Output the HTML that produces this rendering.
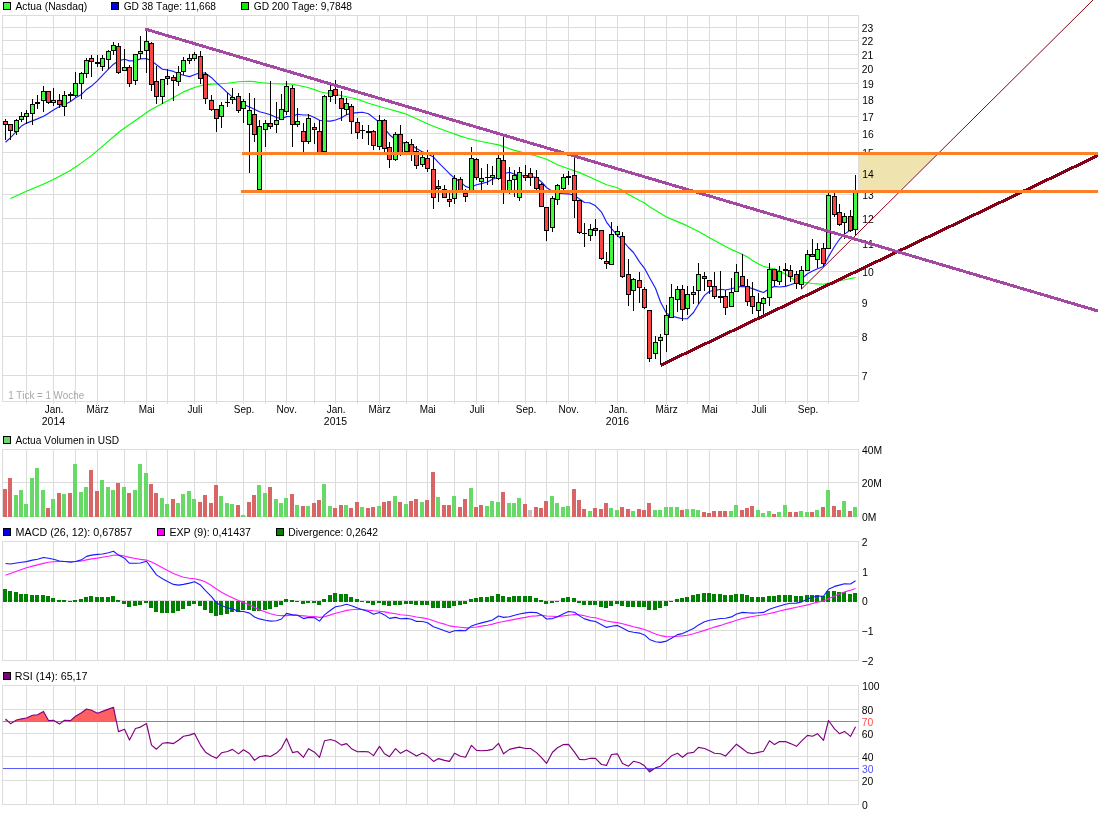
<!DOCTYPE html>
<html lang="de"><head><meta charset="utf-8"><title>Actua (Nasdaq) Chart</title>
<style>html,body{margin:0;padding:0;background:#fff}body{width:1098px;height:814px;overflow:hidden}svg{display:block}text{font-family:'Liberation Sans', sans-serif;font-size:11px;font-kerning:none}</style>
</head><body><svg width="1098" height="814" viewBox="0 0 1098 814" font-family="'Liberation Sans', sans-serif" font-size="11" fill="#000"><rect width="1098" height="814" fill="#fff"/><g id="main"><path d="M26.5 15.5V403.5M53.5 15.5V403.5M75.5 15.5V403.5M97.5 15.5V403.5M124.5 15.5V403.5M146.5 15.5V403.5M167.5 15.5V403.5M194.5 15.5V403.5M216.5 15.5V403.5M243.5 15.5V403.5M265.5 15.5V403.5M286.5 15.5V403.5M314.5 15.5V403.5M335.5 15.5V403.5M357.5 15.5V403.5M379.5 15.5V403.5M406.5 15.5V403.5M427.5 15.5V403.5M454.5 15.5V403.5M476.5 15.5V403.5M498.5 15.5V403.5M525.5 15.5V403.5M546.5 15.5V403.5M568.5 15.5V403.5M595.5 15.5V403.5M617.5 15.5V403.5M644.5 15.5V403.5M666.5 15.5V403.5M687.5 15.5V403.5M709.5 15.5V403.5M736.5 15.5V403.5M758.5 15.5V403.5M785.5 15.5V403.5M807.5 15.5V403.5M828.5 15.5V403.5M2.5 375.5H858.5M2.5 336.5H858.5M2.5 302.5H858.5M2.5 271.5H858.5M2.5 243.5H858.5M2.5 218.5H858.5M2.5 194.5H858.5M2.5 173.5H858.5M2.5 152.5H858.5M2.5 133.5H858.5M2.5 116.5H858.5M2.5 99.5H858.5M2.5 83.5H858.5M2.5 68.5H858.5M2.5 54.5H858.5M2.5 40.5H858.5M2.5 27.5H858.5" stroke="#dcdcdc" stroke-width="1" fill="none" shape-rendering="crispEdges"/><rect x="2.5" y="15.5" width="856.0" height="386.0" fill="none" stroke="#dcdcdc" stroke-width="1" shape-rendering="crispEdges"/><text transform="translate(8.15 399) scale(0.8921 1)" fill="#a8a8a8">1 Tick = 1 Woche</text><path d="M10.5 198.5 L26.5 191.3 L43.1 184.2 L53.5 179.4 L70.8 170.3 L81.9 162.6 L91.8 155.4 L97.6 150.4 L120.0 131.2 L150.3 110.0 L162.5 103.5 L173.5 97.4 L183.5 91.9 L194.5 87.5 L200.5 85.8 L205.5 84.6 L211.5 84.1 L216.5 84.0 L227.4 83.2 L238.5 81.8 L249.4 81.3 L254.4 81.6 L259.5 82.5 L270.5 83.5 L281.5 84.0 L286.5 83.8 L292.5 84.3 L297.5 85.2 L303.5 86.5 L308.5 87.7 L314.5 89.6 L320.0 91.7 L324.5 92.7 L335.5 94.3 L341.5 95.7 L351.5 97.7 L357.5 99.3 L368.5 103.2 L379.5 106.5 L389.5 109.3 L400.5 112.4 L406.5 114.2 L416.5 118.7 L427.5 123.7 L430.4 125.0 L438.5 128.3 L449.5 132.2 L460.5 136.1 L465.5 137.7 L476.5 140.5 L487.5 142.7 L498.5 144.9 L503.5 146.6 L509.5 148.8 L514.5 150.4 L519.5 151.6 L525.5 153.2 L536.5 156.0 L546.5 159.3 L557.5 164.8 L568.5 168.7 L579.5 172.6 L589.5 177.0 L595.5 179.8 L606.5 184.8 L616.5 187.5 L622.5 190.3 L626.2 193.3 L630.0 195.3 L639.5 200.5 L644.4 202.7 L650.0 207.1 L666.5 217.0 L677.5 221.6 L687.5 225.9 L698.6 231.4 L709.5 237.7 L720.5 243.8 L725.5 246.6 L731.5 249.6 L736.5 251.8 L742.5 254.4 L747.5 257.1 L752.5 260.4 L758.5 264.0 L763.5 266.2 L769.5 268.0 L774.5 268.7 L779.5 271.0 L785.5 274.3 L790.5 277.6 L796.5 280.9 L801.5 282.0 L807.5 282.8 L812.5 283.5 L817.5 283.9 L823.5 284.2 L828.5 283.1 L834.5 281.5 L839.5 280.6 L845.0 279.8 L855.5 277.5" fill="none" stroke="#00ff00" stroke-width="1.15" stroke-linejoin="round" /><path d="M5.5 142.2 L10.5 137.7 L16.5 131.4 L21.5 125.9 L26.5 123.1 L32.4 120.9 L37.4 118.9 L43.5 116.3 L48.5 113.2 L53.5 109.9 L59.5 106.5 L64.5 104.6 L70.6 101.6 L75.5 97.7 L81.5 94.4 L86.5 89.4 L91.5 86.1 L97.5 80.6 L102.4 75.3 L108.5 69.2 L113.5 64.2 L118.5 60.9 L124.5 59.3 L129.5 60.9 L135.5 60.7 L140.5 58.9 L146.5 58.5 L151.5 60.9 L156.5 64.8 L162.5 69.2 L167.5 70.0 L173.5 71.4 L178.5 73.7 L183.5 75.3 L189.5 76.6 L194.5 74.8 L200.5 72.5 L205.5 73.3 L211.5 77.7 L216.5 82.7 L221.5 87.1 L227.4 92.6 L232.4 97.1 L238.5 101.5 L243.5 104.2 L249.4 107.0 L254.4 109.2 L259.5 111.8 L265.5 113.3 L270.5 114.8 L276.4 117.5 L281.5 118.6 L286.5 116.6 L292.5 116.2 L297.5 114.2 L303.5 115.0 L308.5 115.0 L314.5 117.5 L319.5 120.3 L324.5 120.9 L330.5 121.1 L335.5 120.0 L341.5 117.8 L346.5 114.8 L351.5 113.1 L357.5 112.6 L362.5 112.3 L368.5 113.7 L373.5 117.6 L379.5 122.5 L384.5 128.6 L389.5 134.7 L395.5 139.7 L400.5 141.9 L406.5 143.6 L411.5 145.2 L416.5 148.5 L422.5 151.9 L427.5 154.0 L433.5 157.1 L438.5 162.6 L444.5 168.7 L449.5 173.7 L454.5 178.1 L460.5 182.0 L465.5 186.4 L468.6 187.5 L471.5 187.0 L476.5 184.7 L481.5 183.6 L487.5 182.0 L492.5 179.2 L498.5 177.0 L503.5 173.7 L509.5 172.3 L514.5 174.2 L519.5 175.5 L525.5 175.9 L530.5 176.5 L536.5 177.6 L541.5 182.0 L546.5 187.5 L552.5 191.4 L557.5 193.3 L563.5 193.8 L568.5 193.9 L574.5 195.3 L579.5 199.1 L584.5 202.5 L589.5 202.8 L595.5 205.8 L601.5 212.1 L606.5 222.1 L611.5 228.7 L617.5 235.4 L622.5 240.4 L628.5 247.5 L633.5 252.5 L639.5 261.9 L644.5 268.3 L650.0 278.5 L655.5 288.2 L660.5 302.0 L666.5 313.3 L671.5 316.0 L677.5 317.6 L682.5 318.7 L687.5 318.7 L693.5 312.5 L698.5 304.2 L704.5 295.4 L709.5 291.2 L714.5 290.6 L720.5 289.3 L725.5 290.0 L731.5 288.8 L736.5 287.3 L742.5 286.4 L747.5 287.2 L752.5 288.6 L758.5 290.9 L763.5 292.5 L769.5 288.5 L774.5 286.4 L779.5 287.0 L785.5 286.4 L790.5 284.8 L796.5 282.6 L801.5 279.0 L807.5 273.7 L812.5 271.0 L817.5 268.7 L823.5 266.5 L828.5 256.6 L834.5 246.5 L839.5 239.2 L844.5 234.1 L850.5 230.0 L855.5 226.5" fill="none" stroke="#1a1aff" stroke-width="1.15" stroke-linejoin="round" /><g shape-rendering="crispEdges"><rect x="5" y="119" width="1" height="21" fill="#000"/><rect x="3" y="121" width="5" height="4" fill="#000"/><rect x="4" y="122" width="3" height="2" fill="#fb4545"/><rect x="10" y="124" width="1" height="16" fill="#000"/><rect x="8" y="124" width="5" height="7" fill="#000"/><rect x="9" y="125" width="3" height="5" fill="#fb4545"/><rect x="16" y="119" width="1" height="16" fill="#000"/><rect x="14" y="120" width="5" height="12" fill="#000"/><rect x="15" y="121" width="3" height="10" fill="#3ffb3f"/><rect x="21" y="112" width="1" height="10" fill="#000"/><rect x="19" y="116" width="5" height="4" fill="#000"/><rect x="20" y="117" width="3" height="2" fill="#3ffb3f"/><rect x="26" y="110" width="1" height="14" fill="#000"/><rect x="24" y="113" width="5" height="4" fill="#000"/><rect x="25" y="114" width="3" height="2" fill="#3ffb3f"/><rect x="32" y="99" width="1" height="26" fill="#000"/><rect x="30" y="104" width="5" height="10" fill="#000"/><rect x="31" y="105" width="3" height="8" fill="#3ffb3f"/><rect x="37" y="95" width="1" height="14" fill="#000"/><rect x="35" y="102" width="5" height="2" fill="#000"/><rect x="43" y="86" width="1" height="26" fill="#000"/><rect x="41" y="91" width="5" height="10" fill="#000"/><rect x="42" y="92" width="3" height="8" fill="#3ffb3f"/><rect x="48" y="91" width="1" height="13" fill="#000"/><rect x="46" y="91" width="5" height="12" fill="#000"/><rect x="47" y="92" width="3" height="10" fill="#fb4545"/><rect x="53" y="88" width="1" height="18" fill="#000"/><rect x="51" y="100" width="5" height="3" fill="#000"/><rect x="52" y="101" width="3" height="1" fill="#3ffb3f"/><rect x="59" y="94" width="1" height="14" fill="#000"/><rect x="57" y="100" width="5" height="5" fill="#000"/><rect x="58" y="101" width="3" height="3" fill="#fb4545"/><rect x="64" y="91" width="1" height="25" fill="#000"/><rect x="62" y="95" width="5" height="12" fill="#000"/><rect x="63" y="96" width="3" height="10" fill="#3ffb3f"/><rect x="70" y="92" width="1" height="9" fill="#000"/><rect x="68" y="94" width="5" height="2" fill="#000"/><rect x="75" y="72" width="1" height="25" fill="#000"/><rect x="73" y="83" width="5" height="13" fill="#000"/><rect x="74" y="84" width="3" height="11" fill="#3ffb3f"/><rect x="81" y="72" width="1" height="27" fill="#000"/><rect x="79" y="73" width="5" height="11" fill="#000"/><rect x="80" y="74" width="3" height="9" fill="#3ffb3f"/><rect x="86" y="58" width="1" height="20" fill="#000"/><rect x="84" y="60" width="5" height="14" fill="#000"/><rect x="85" y="61" width="3" height="12" fill="#3ffb3f"/><rect x="91" y="55" width="1" height="22" fill="#000"/><rect x="89" y="58" width="5" height="4" fill="#000"/><rect x="90" y="59" width="3" height="2" fill="#fb4545"/><rect x="97" y="55" width="1" height="12" fill="#000"/><rect x="95" y="62" width="5" height="2" fill="#000"/><rect x="102" y="55" width="1" height="16" fill="#000"/><rect x="100" y="58" width="5" height="9" fill="#000"/><rect x="101" y="59" width="3" height="7" fill="#3ffb3f"/><rect x="108" y="50" width="1" height="19" fill="#000"/><rect x="106" y="51" width="5" height="9" fill="#000"/><rect x="107" y="52" width="3" height="7" fill="#3ffb3f"/><rect x="113" y="42" width="1" height="13" fill="#000"/><rect x="111" y="45" width="5" height="6" fill="#000"/><rect x="112" y="46" width="3" height="4" fill="#3ffb3f"/><rect x="118" y="43" width="1" height="31" fill="#000"/><rect x="116" y="46" width="5" height="27" fill="#000"/><rect x="117" y="47" width="3" height="25" fill="#fb4545"/><rect x="124" y="49" width="1" height="22" fill="#000"/><rect x="122" y="67" width="5" height="4" fill="#000"/><rect x="123" y="68" width="3" height="2" fill="#3ffb3f"/><rect x="129" y="65" width="1" height="22" fill="#000"/><rect x="127" y="67" width="5" height="17" fill="#000"/><rect x="128" y="68" width="3" height="15" fill="#fb4545"/><rect x="135" y="54" width="1" height="31" fill="#000"/><rect x="133" y="54" width="5" height="27" fill="#000"/><rect x="134" y="55" width="3" height="25" fill="#3ffb3f"/><rect x="140" y="36" width="1" height="23" fill="#000"/><rect x="138" y="51" width="5" height="3" fill="#000"/><rect x="139" y="52" width="3" height="1" fill="#3ffb3f"/><rect x="146" y="31" width="1" height="42" fill="#000"/><rect x="144" y="41" width="5" height="10" fill="#000"/><rect x="145" y="42" width="3" height="8" fill="#3ffb3f"/><rect x="151" y="42" width="1" height="49" fill="#000"/><rect x="149" y="43" width="5" height="42" fill="#000"/><rect x="150" y="44" width="3" height="40" fill="#fb4545"/><rect x="156" y="66" width="1" height="38" fill="#000"/><rect x="154" y="81" width="5" height="16" fill="#000"/><rect x="155" y="82" width="3" height="14" fill="#fb4545"/><rect x="162" y="79" width="1" height="25" fill="#000"/><rect x="160" y="79" width="5" height="18" fill="#000"/><rect x="161" y="80" width="3" height="16" fill="#3ffb3f"/><rect x="167" y="69" width="1" height="16" fill="#000"/><rect x="165" y="76" width="5" height="3" fill="#000"/><rect x="166" y="77" width="3" height="1" fill="#fb4545"/><rect x="173" y="75" width="1" height="26" fill="#000"/><rect x="171" y="77" width="5" height="4" fill="#000"/><rect x="172" y="78" width="3" height="2" fill="#fb4545"/><rect x="178" y="66" width="1" height="20" fill="#000"/><rect x="176" y="72" width="5" height="10" fill="#000"/><rect x="177" y="73" width="3" height="8" fill="#3ffb3f"/><rect x="183" y="57" width="1" height="18" fill="#000"/><rect x="181" y="60" width="5" height="12" fill="#000"/><rect x="182" y="61" width="3" height="10" fill="#3ffb3f"/><rect x="189" y="54" width="1" height="10" fill="#000"/><rect x="187" y="58" width="5" height="3" fill="#000"/><rect x="188" y="59" width="3" height="1" fill="#3ffb3f"/><rect x="194" y="52" width="1" height="9" fill="#000"/><rect x="192" y="54" width="5" height="5" fill="#000"/><rect x="193" y="55" width="3" height="3" fill="#3ffb3f"/><rect x="200" y="51" width="1" height="33" fill="#000"/><rect x="198" y="56" width="5" height="23" fill="#000"/><rect x="199" y="57" width="3" height="21" fill="#fb4545"/><rect x="205" y="72" width="1" height="32" fill="#000"/><rect x="203" y="74" width="5" height="25" fill="#000"/><rect x="204" y="75" width="3" height="23" fill="#fb4545"/><rect x="211" y="95" width="1" height="16" fill="#000"/><rect x="209" y="100" width="5" height="10" fill="#000"/><rect x="210" y="101" width="3" height="8" fill="#fb4545"/><rect x="216" y="109" width="1" height="23" fill="#000"/><rect x="214" y="109" width="5" height="10" fill="#000"/><rect x="215" y="110" width="3" height="8" fill="#fb4545"/><rect x="221" y="102" width="1" height="26" fill="#000"/><rect x="219" y="105" width="5" height="12" fill="#000"/><rect x="220" y="106" width="3" height="10" fill="#3ffb3f"/><rect x="227" y="93" width="1" height="14" fill="#000"/><rect x="225" y="102" width="5" height="1" fill="#000"/><rect x="232" y="88" width="1" height="16" fill="#000"/><rect x="230" y="97" width="5" height="3" fill="#000"/><rect x="231" y="98" width="3" height="1" fill="#3ffb3f"/><rect x="238" y="93" width="1" height="20" fill="#000"/><rect x="236" y="96" width="5" height="15" fill="#000"/><rect x="237" y="97" width="3" height="13" fill="#fb4545"/><rect x="243" y="99" width="1" height="24" fill="#000"/><rect x="241" y="101" width="5" height="8" fill="#000"/><rect x="242" y="102" width="3" height="6" fill="#3ffb3f"/><rect x="249" y="93" width="1" height="80" fill="#000"/><rect x="247" y="110" width="5" height="15" fill="#000"/><rect x="248" y="111" width="3" height="13" fill="#3ffb3f"/><rect x="254" y="98" width="1" height="44" fill="#000"/><rect x="252" y="114" width="5" height="21" fill="#000"/><rect x="253" y="115" width="3" height="19" fill="#fb4545"/><rect x="259" y="120" width="1" height="70" fill="#000"/><rect x="257" y="126" width="5" height="64" fill="#000"/><rect x="258" y="127" width="3" height="62" fill="#3ffb3f"/><rect x="265" y="120" width="1" height="27" fill="#000"/><rect x="263" y="123" width="5" height="7" fill="#000"/><rect x="264" y="124" width="3" height="5" fill="#3ffb3f"/><rect x="270" y="81" width="1" height="48" fill="#000"/><rect x="268" y="123" width="5" height="4" fill="#000"/><rect x="269" y="124" width="3" height="2" fill="#fb4545"/><rect x="276" y="102" width="1" height="31" fill="#000"/><rect x="274" y="120" width="5" height="5" fill="#000"/><rect x="275" y="121" width="3" height="3" fill="#3ffb3f"/><rect x="281" y="94" width="1" height="26" fill="#000"/><rect x="279" y="109" width="5" height="11" fill="#000"/><rect x="280" y="110" width="3" height="9" fill="#3ffb3f"/><rect x="286" y="81" width="1" height="34" fill="#000"/><rect x="284" y="86" width="5" height="26" fill="#000"/><rect x="285" y="87" width="3" height="24" fill="#3ffb3f"/><rect x="292" y="85" width="1" height="62" fill="#000"/><rect x="290" y="88" width="5" height="37" fill="#000"/><rect x="291" y="89" width="3" height="35" fill="#fb4545"/><rect x="297" y="108" width="1" height="19" fill="#000"/><rect x="295" y="121" width="5" height="4" fill="#000"/><rect x="296" y="122" width="3" height="2" fill="#3ffb3f"/><rect x="303" y="123" width="1" height="29" fill="#000"/><rect x="301" y="131" width="5" height="11" fill="#000"/><rect x="302" y="132" width="3" height="9" fill="#fb4545"/><rect x="308" y="114" width="1" height="30" fill="#000"/><rect x="306" y="118" width="5" height="24" fill="#000"/><rect x="307" y="119" width="3" height="22" fill="#3ffb3f"/><rect x="314" y="123" width="1" height="21" fill="#000"/><rect x="312" y="127" width="5" height="3" fill="#000"/><rect x="313" y="128" width="3" height="1" fill="#fb4545"/><rect x="319" y="120" width="1" height="33" fill="#000"/><rect x="317" y="131" width="5" height="22" fill="#000"/><rect x="318" y="132" width="3" height="20" fill="#fb4545"/><rect x="324" y="95" width="1" height="57" fill="#000"/><rect x="322" y="96" width="5" height="56" fill="#000"/><rect x="323" y="97" width="3" height="54" fill="#3ffb3f"/><rect x="330" y="85" width="1" height="17" fill="#000"/><rect x="328" y="90" width="5" height="7" fill="#000"/><rect x="329" y="91" width="3" height="5" fill="#3ffb3f"/><rect x="335" y="80" width="1" height="24" fill="#000"/><rect x="333" y="89" width="5" height="7" fill="#000"/><rect x="334" y="90" width="3" height="5" fill="#fb4545"/><rect x="341" y="91" width="1" height="30" fill="#000"/><rect x="339" y="98" width="5" height="11" fill="#000"/><rect x="340" y="99" width="3" height="9" fill="#fb4545"/><rect x="346" y="98" width="1" height="17" fill="#000"/><rect x="344" y="103" width="5" height="7" fill="#000"/><rect x="345" y="104" width="3" height="5" fill="#3ffb3f"/><rect x="351" y="104" width="1" height="30" fill="#000"/><rect x="349" y="106" width="5" height="16" fill="#000"/><rect x="350" y="107" width="3" height="14" fill="#fb4545"/><rect x="357" y="118" width="1" height="21" fill="#000"/><rect x="355" y="122" width="5" height="11" fill="#000"/><rect x="356" y="123" width="3" height="9" fill="#fb4545"/><rect x="362" y="125" width="1" height="14" fill="#000"/><rect x="360" y="130" width="5" height="1" fill="#000"/><rect x="368" y="125" width="1" height="20" fill="#000"/><rect x="366" y="131" width="5" height="2" fill="#000"/><rect x="373" y="130" width="1" height="20" fill="#000"/><rect x="371" y="131" width="5" height="15" fill="#000"/><rect x="372" y="132" width="3" height="13" fill="#fb4545"/><rect x="379" y="115" width="1" height="35" fill="#000"/><rect x="377" y="120" width="5" height="27" fill="#000"/><rect x="378" y="121" width="3" height="25" fill="#3ffb3f"/><rect x="384" y="119" width="1" height="33" fill="#000"/><rect x="382" y="120" width="5" height="29" fill="#000"/><rect x="383" y="121" width="3" height="27" fill="#fb4545"/><rect x="389" y="142" width="1" height="26" fill="#000"/><rect x="387" y="147" width="5" height="13" fill="#000"/><rect x="388" y="148" width="3" height="11" fill="#fb4545"/><rect x="395" y="132" width="1" height="29" fill="#000"/><rect x="393" y="134" width="5" height="26" fill="#000"/><rect x="394" y="135" width="3" height="24" fill="#3ffb3f"/><rect x="400" y="125" width="1" height="31" fill="#000"/><rect x="398" y="134" width="5" height="20" fill="#000"/><rect x="399" y="135" width="3" height="18" fill="#fb4545"/><rect x="406" y="141" width="1" height="11" fill="#000"/><rect x="404" y="142" width="5" height="10" fill="#000"/><rect x="405" y="143" width="3" height="8" fill="#3ffb3f"/><rect x="411" y="139" width="1" height="22" fill="#000"/><rect x="409" y="144" width="5" height="9" fill="#000"/><rect x="410" y="145" width="3" height="7" fill="#fb4545"/><rect x="416" y="146" width="1" height="23" fill="#000"/><rect x="414" y="151" width="5" height="15" fill="#000"/><rect x="415" y="152" width="3" height="13" fill="#fb4545"/><rect x="422" y="155" width="1" height="12" fill="#000"/><rect x="420" y="157" width="5" height="8" fill="#000"/><rect x="421" y="158" width="3" height="6" fill="#3ffb3f"/><rect x="427" y="150" width="1" height="22" fill="#000"/><rect x="425" y="158" width="5" height="11" fill="#000"/><rect x="426" y="159" width="3" height="9" fill="#fb4545"/><rect x="433" y="155" width="1" height="54" fill="#000"/><rect x="431" y="169" width="5" height="29" fill="#000"/><rect x="432" y="170" width="3" height="27" fill="#fb4545"/><rect x="438" y="180" width="1" height="22" fill="#000"/><rect x="436" y="186" width="5" height="3" fill="#000"/><rect x="437" y="187" width="3" height="1" fill="#fb4545"/><rect x="444" y="185" width="1" height="13" fill="#000"/><rect x="442" y="189" width="5" height="9" fill="#000"/><rect x="443" y="190" width="3" height="7" fill="#fb4545"/><rect x="449" y="193" width="1" height="14" fill="#000"/><rect x="447" y="199" width="5" height="3" fill="#000"/><rect x="448" y="200" width="3" height="1" fill="#fb4545"/><rect x="454" y="175" width="1" height="29" fill="#000"/><rect x="452" y="178" width="5" height="21" fill="#000"/><rect x="453" y="179" width="3" height="19" fill="#3ffb3f"/><rect x="460" y="177" width="1" height="16" fill="#000"/><rect x="458" y="179" width="5" height="13" fill="#000"/><rect x="459" y="180" width="3" height="11" fill="#fb4545"/><rect x="465" y="189" width="1" height="13" fill="#000"/><rect x="463" y="193" width="5" height="4" fill="#000"/><rect x="464" y="194" width="3" height="2" fill="#fb4545"/><rect x="471" y="147" width="1" height="45" fill="#000"/><rect x="469" y="158" width="5" height="34" fill="#000"/><rect x="470" y="159" width="3" height="32" fill="#3ffb3f"/><rect x="476" y="158" width="1" height="22" fill="#000"/><rect x="474" y="159" width="5" height="19" fill="#000"/><rect x="475" y="160" width="3" height="17" fill="#fb4545"/><rect x="481" y="168" width="1" height="22" fill="#000"/><rect x="479" y="178" width="5" height="4" fill="#000"/><rect x="480" y="179" width="3" height="2" fill="#3ffb3f"/><rect x="487" y="164" width="1" height="21" fill="#000"/><rect x="485" y="177" width="5" height="1" fill="#000"/><rect x="492" y="166" width="1" height="19" fill="#000"/><rect x="490" y="175" width="5" height="3" fill="#000"/><rect x="491" y="176" width="3" height="1" fill="#3ffb3f"/><rect x="498" y="155" width="1" height="25" fill="#000"/><rect x="496" y="158" width="5" height="21" fill="#000"/><rect x="497" y="159" width="3" height="19" fill="#3ffb3f"/><rect x="503" y="136" width="1" height="68" fill="#000"/><rect x="501" y="160" width="5" height="32" fill="#000"/><rect x="502" y="161" width="3" height="30" fill="#fb4545"/><rect x="509" y="167" width="1" height="27" fill="#000"/><rect x="507" y="180" width="5" height="12" fill="#000"/><rect x="508" y="181" width="3" height="10" fill="#3ffb3f"/><rect x="514" y="170" width="1" height="27" fill="#000"/><rect x="512" y="175" width="5" height="5" fill="#000"/><rect x="513" y="176" width="3" height="3" fill="#3ffb3f"/><rect x="519" y="167" width="1" height="34" fill="#000"/><rect x="517" y="172" width="5" height="26" fill="#000"/><rect x="518" y="173" width="3" height="24" fill="#3ffb3f"/><rect x="525" y="165" width="1" height="16" fill="#000"/><rect x="523" y="175" width="5" height="3" fill="#000"/><rect x="524" y="176" width="3" height="1" fill="#fb4545"/><rect x="530" y="168" width="1" height="18" fill="#000"/><rect x="528" y="173" width="5" height="5" fill="#000"/><rect x="529" y="174" width="3" height="3" fill="#fb4545"/><rect x="536" y="170" width="1" height="20" fill="#000"/><rect x="534" y="177" width="5" height="12" fill="#000"/><rect x="535" y="178" width="3" height="10" fill="#fb4545"/><rect x="541" y="183" width="1" height="24" fill="#000"/><rect x="539" y="184" width="5" height="23" fill="#000"/><rect x="540" y="185" width="3" height="21" fill="#fb4545"/><rect x="546" y="207" width="1" height="34" fill="#000"/><rect x="544" y="207" width="5" height="24" fill="#000"/><rect x="545" y="208" width="3" height="22" fill="#fb4545"/><rect x="552" y="196" width="1" height="36" fill="#000"/><rect x="550" y="198" width="5" height="30" fill="#000"/><rect x="551" y="199" width="3" height="28" fill="#3ffb3f"/><rect x="557" y="184" width="1" height="21" fill="#000"/><rect x="555" y="185" width="5" height="15" fill="#000"/><rect x="556" y="186" width="3" height="13" fill="#3ffb3f"/><rect x="563" y="174" width="1" height="16" fill="#000"/><rect x="561" y="177" width="5" height="12" fill="#000"/><rect x="562" y="178" width="3" height="10" fill="#3ffb3f"/><rect x="568" y="171" width="1" height="14" fill="#000"/><rect x="566" y="176" width="5" height="2" fill="#000"/><rect x="574" y="157" width="1" height="61" fill="#000"/><rect x="572" y="175" width="5" height="26" fill="#000"/><rect x="573" y="176" width="3" height="24" fill="#fb4545"/><rect x="579" y="200" width="1" height="34" fill="#000"/><rect x="577" y="200" width="5" height="33" fill="#000"/><rect x="578" y="201" width="3" height="31" fill="#fb4545"/><rect x="584" y="223" width="1" height="24" fill="#000"/><rect x="582" y="233" width="5" height="1" fill="#000"/><rect x="590" y="224" width="1" height="17" fill="#000"/><rect x="588" y="229" width="5" height="7" fill="#000"/><rect x="589" y="230" width="3" height="5" fill="#3ffb3f"/><rect x="595" y="219" width="1" height="17" fill="#000"/><rect x="593" y="228" width="5" height="3" fill="#000"/><rect x="594" y="229" width="3" height="1" fill="#fb4545"/><rect x="601" y="230" width="1" height="30" fill="#000"/><rect x="599" y="230" width="5" height="29" fill="#000"/><rect x="600" y="231" width="3" height="27" fill="#fb4545"/><rect x="606" y="252" width="1" height="17" fill="#000"/><rect x="604" y="261" width="5" height="3" fill="#000"/><rect x="605" y="262" width="3" height="1" fill="#fb4545"/><rect x="611" y="222" width="1" height="43" fill="#000"/><rect x="609" y="234" width="5" height="31" fill="#000"/><rect x="610" y="235" width="3" height="29" fill="#3ffb3f"/><rect x="617" y="226" width="1" height="11" fill="#000"/><rect x="615" y="231" width="5" height="4" fill="#000"/><rect x="616" y="232" width="3" height="2" fill="#3ffb3f"/><rect x="622" y="232" width="1" height="46" fill="#000"/><rect x="620" y="236" width="5" height="41" fill="#000"/><rect x="621" y="237" width="3" height="39" fill="#fb4545"/><rect x="628" y="259" width="1" height="47" fill="#000"/><rect x="626" y="274" width="5" height="21" fill="#000"/><rect x="627" y="275" width="3" height="19" fill="#fb4545"/><rect x="633" y="278" width="1" height="33" fill="#000"/><rect x="631" y="279" width="5" height="12" fill="#000"/><rect x="632" y="280" width="3" height="10" fill="#3ffb3f"/><rect x="639" y="272" width="1" height="31" fill="#000"/><rect x="637" y="280" width="5" height="8" fill="#000"/><rect x="638" y="281" width="3" height="6" fill="#fb4545"/><rect x="644" y="287" width="1" height="22" fill="#000"/><rect x="642" y="289" width="5" height="19" fill="#000"/><rect x="643" y="290" width="3" height="17" fill="#fb4545"/><rect x="649" y="310" width="1" height="52" fill="#000"/><rect x="647" y="310" width="5" height="49" fill="#000"/><rect x="648" y="311" width="3" height="47" fill="#fb4545"/><rect x="655" y="336" width="1" height="23" fill="#000"/><rect x="653" y="342" width="5" height="12" fill="#000"/><rect x="654" y="343" width="3" height="10" fill="#3ffb3f"/><rect x="660" y="334" width="1" height="31" fill="#000"/><rect x="658" y="337" width="5" height="4" fill="#000"/><rect x="659" y="338" width="3" height="2" fill="#3ffb3f"/><rect x="666" y="305" width="1" height="47" fill="#000"/><rect x="664" y="315" width="5" height="20" fill="#000"/><rect x="665" y="316" width="3" height="18" fill="#3ffb3f"/><rect x="671" y="284" width="1" height="34" fill="#000"/><rect x="669" y="297" width="5" height="21" fill="#000"/><rect x="670" y="298" width="3" height="19" fill="#3ffb3f"/><rect x="677" y="286" width="1" height="26" fill="#000"/><rect x="675" y="289" width="5" height="11" fill="#000"/><rect x="676" y="290" width="3" height="9" fill="#3ffb3f"/><rect x="682" y="285" width="1" height="36" fill="#000"/><rect x="680" y="289" width="5" height="21" fill="#000"/><rect x="681" y="290" width="3" height="19" fill="#fb4545"/><rect x="687" y="286" width="1" height="29" fill="#000"/><rect x="685" y="294" width="5" height="15" fill="#000"/><rect x="686" y="295" width="3" height="13" fill="#3ffb3f"/><rect x="693" y="286" width="1" height="18" fill="#000"/><rect x="691" y="292" width="5" height="3" fill="#000"/><rect x="692" y="293" width="3" height="1" fill="#3ffb3f"/><rect x="698" y="263" width="1" height="41" fill="#000"/><rect x="696" y="274" width="5" height="17" fill="#000"/><rect x="697" y="275" width="3" height="15" fill="#3ffb3f"/><rect x="704" y="272" width="1" height="19" fill="#000"/><rect x="702" y="276" width="5" height="3" fill="#000"/><rect x="703" y="277" width="3" height="1" fill="#fb4545"/><rect x="709" y="280" width="1" height="14" fill="#000"/><rect x="707" y="280" width="5" height="7" fill="#000"/><rect x="708" y="281" width="3" height="5" fill="#fb4545"/><rect x="714" y="272" width="1" height="27" fill="#000"/><rect x="712" y="286" width="5" height="11" fill="#000"/><rect x="713" y="287" width="3" height="9" fill="#fb4545"/><rect x="720" y="271" width="1" height="32" fill="#000"/><rect x="718" y="296" width="5" height="2" fill="#000"/><rect x="725" y="290" width="1" height="25" fill="#000"/><rect x="723" y="296" width="5" height="12" fill="#000"/><rect x="724" y="297" width="3" height="10" fill="#fb4545"/><rect x="731" y="278" width="1" height="29" fill="#000"/><rect x="729" y="292" width="5" height="15" fill="#000"/><rect x="730" y="293" width="3" height="13" fill="#3ffb3f"/><rect x="736" y="264" width="1" height="28" fill="#000"/><rect x="734" y="272" width="5" height="20" fill="#000"/><rect x="735" y="273" width="3" height="18" fill="#3ffb3f"/><rect x="742" y="254" width="1" height="32" fill="#000"/><rect x="740" y="276" width="5" height="10" fill="#000"/><rect x="741" y="277" width="3" height="8" fill="#fb4545"/><rect x="747" y="279" width="1" height="27" fill="#000"/><rect x="745" y="286" width="5" height="16" fill="#000"/><rect x="746" y="287" width="3" height="14" fill="#fb4545"/><rect x="752" y="282" width="1" height="32" fill="#000"/><rect x="750" y="296" width="5" height="11" fill="#000"/><rect x="751" y="297" width="3" height="9" fill="#fb4545"/><rect x="758" y="293" width="1" height="24" fill="#000"/><rect x="756" y="302" width="5" height="9" fill="#000"/><rect x="757" y="303" width="3" height="7" fill="#3ffb3f"/><rect x="763" y="297" width="1" height="17" fill="#000"/><rect x="761" y="298" width="5" height="6" fill="#000"/><rect x="762" y="299" width="3" height="4" fill="#3ffb3f"/><rect x="769" y="263" width="1" height="43" fill="#000"/><rect x="767" y="269" width="5" height="29" fill="#000"/><rect x="768" y="270" width="3" height="27" fill="#3ffb3f"/><rect x="774" y="269" width="1" height="17" fill="#000"/><rect x="772" y="269" width="5" height="12" fill="#000"/><rect x="773" y="270" width="3" height="10" fill="#fb4545"/><rect x="779" y="266" width="1" height="19" fill="#000"/><rect x="777" y="271" width="5" height="11" fill="#000"/><rect x="778" y="272" width="3" height="9" fill="#3ffb3f"/><rect x="785" y="263" width="1" height="23" fill="#000"/><rect x="783" y="269" width="5" height="2" fill="#000"/><rect x="790" y="265" width="1" height="17" fill="#000"/><rect x="788" y="270" width="5" height="7" fill="#000"/><rect x="789" y="271" width="3" height="5" fill="#fb4545"/><rect x="796" y="271" width="1" height="18" fill="#000"/><rect x="794" y="274" width="5" height="10" fill="#000"/><rect x="795" y="275" width="3" height="8" fill="#fb4545"/><rect x="801" y="266" width="1" height="23" fill="#000"/><rect x="799" y="270" width="5" height="15" fill="#000"/><rect x="800" y="271" width="3" height="13" fill="#3ffb3f"/><rect x="807" y="250" width="1" height="21" fill="#000"/><rect x="805" y="254" width="5" height="17" fill="#000"/><rect x="806" y="255" width="3" height="15" fill="#3ffb3f"/><rect x="812" y="239" width="1" height="18" fill="#000"/><rect x="810" y="254" width="5" height="3" fill="#000"/><rect x="811" y="255" width="3" height="1" fill="#fb4545"/><rect x="817" y="243" width="1" height="25" fill="#000"/><rect x="815" y="249" width="5" height="11" fill="#000"/><rect x="816" y="250" width="3" height="9" fill="#3ffb3f"/><rect x="823" y="243" width="1" height="23" fill="#000"/><rect x="821" y="248" width="5" height="16" fill="#000"/><rect x="822" y="249" width="3" height="14" fill="#fb4545"/><rect x="828" y="193" width="1" height="56" fill="#000"/><rect x="826" y="195" width="5" height="54" fill="#000"/><rect x="827" y="196" width="3" height="52" fill="#3ffb3f"/><rect x="834" y="193" width="1" height="24" fill="#000"/><rect x="832" y="196" width="5" height="19" fill="#000"/><rect x="833" y="197" width="3" height="17" fill="#fb4545"/><rect x="839" y="204" width="1" height="22" fill="#000"/><rect x="837" y="212" width="5" height="13" fill="#000"/><rect x="838" y="213" width="3" height="11" fill="#fb4545"/><rect x="844" y="213" width="1" height="26" fill="#000"/><rect x="842" y="216" width="5" height="7" fill="#000"/><rect x="843" y="217" width="3" height="5" fill="#3ffb3f"/><rect x="850" y="210" width="1" height="22" fill="#000"/><rect x="848" y="216" width="5" height="15" fill="#000"/><rect x="849" y="217" width="3" height="13" fill="#fb4545"/><rect x="855" y="175" width="1" height="61" fill="#000"/><rect x="853" y="192" width="5" height="38" fill="#000"/><rect x="854" y="193" width="3" height="36" fill="#3ffb3f"/></g><text transform="translate(861.77 380) scale(0.9400 1)">7</text><text transform="translate(861.85 341) scale(0.9400 1)">8</text><text transform="translate(861.82 307) scale(0.9400 1)">9</text><text transform="translate(862.21 276) scale(0.9400 1)">10</text><text transform="translate(862.21 248) scale(0.9400 1)">11</text><text transform="translate(862.21 223) scale(0.9400 1)">12</text><text transform="translate(862.21 199) scale(0.9400 1)">13</text><text transform="translate(862.21 178) scale(0.9400 1)">14</text><text transform="translate(862.21 157) scale(0.9400 1)">15</text><text transform="translate(862.21 138) scale(0.9400 1)">16</text><text transform="translate(862.21 121) scale(0.9400 1)">17</text><text transform="translate(862.21 104) scale(0.9400 1)">18</text><text transform="translate(862.21 88) scale(0.9400 1)">19</text><text transform="translate(861.78 73) scale(0.9400 1)">20</text><text transform="translate(861.78 59) scale(0.9400 1)">21</text><text transform="translate(861.78 45) scale(0.9400 1)">22</text><text transform="translate(861.78 32) scale(0.9400 1)">23</text><text transform="translate(44.77 413) scale(0.9050 1)">Jan.</text><text transform="translate(41.77 425) scale(0.9500 1)">2014</text><text transform="translate(86.58 413) scale(0.9050 1)">März</text><text transform="translate(138.71 413) scale(0.9050 1)">Mai</text><text transform="translate(187.59 413) scale(0.9050 1)">Juli</text><text transform="translate(233.79 413) scale(0.9050 1)">Sep.</text><text transform="translate(276.61 413) scale(0.9050 1)">Nov.</text><text transform="translate(326.77 413) scale(0.9050 1)">Jan.</text><text transform="translate(323.83 425) scale(0.9500 1)">2015</text><text transform="translate(368.58 413) scale(0.9050 1)">März</text><text transform="translate(419.71 413) scale(0.9050 1)">Mai</text><text transform="translate(469.59 413) scale(0.9050 1)">Juli</text><text transform="translate(515.79 413) scale(0.9050 1)">Sep.</text><text transform="translate(558.61 413) scale(0.9050 1)">Nov.</text><text transform="translate(608.77 413) scale(0.9050 1)">Jan.</text><text transform="translate(605.84 425) scale(0.9500 1)">2016</text><text transform="translate(655.58 413) scale(0.9050 1)">März</text><text transform="translate(701.71 413) scale(0.9050 1)">Mai</text><text transform="translate(751.59 413) scale(0.9050 1)">Juli</text><text transform="translate(797.79 413) scale(0.9050 1)">Sep.</text></g><rect x="3.5" y="2.5" width="7" height="7" fill="#3ffb3f" stroke="#000" stroke-width="1" shape-rendering="crispEdges"/><text transform="translate(15.48 10) scale(0.9376 1)">Actua (Nasdaq)</text><rect x="111.5" y="2.5" width="7" height="7" fill="#0000ee" stroke="#000" stroke-width="1" shape-rendering="crispEdges"/><text transform="translate(123.69 10) scale(0.9276 1)">GD 38 Tage: 11,668</text><rect x="241.5" y="2.5" width="7" height="7" fill="#00ee00" stroke="#000" stroke-width="1" shape-rendering="crispEdges"/><text transform="translate(253.69 10) scale(0.9307 1)">GD 200 Tage: 9,7848</text><g id="vol"><path d="M26.5 449.5V516.5M53.5 449.5V516.5M75.5 449.5V516.5M97.5 449.5V516.5M124.5 449.5V516.5M146.5 449.5V516.5M167.5 449.5V516.5M194.5 449.5V516.5M216.5 449.5V516.5M243.5 449.5V516.5M265.5 449.5V516.5M286.5 449.5V516.5M314.5 449.5V516.5M335.5 449.5V516.5M357.5 449.5V516.5M379.5 449.5V516.5M406.5 449.5V516.5M427.5 449.5V516.5M454.5 449.5V516.5M476.5 449.5V516.5M498.5 449.5V516.5M525.5 449.5V516.5M546.5 449.5V516.5M568.5 449.5V516.5M595.5 449.5V516.5M617.5 449.5V516.5M644.5 449.5V516.5M666.5 449.5V516.5M687.5 449.5V516.5M709.5 449.5V516.5M736.5 449.5V516.5M758.5 449.5V516.5M785.5 449.5V516.5M807.5 449.5V516.5M828.5 449.5V516.5M2.5 482.5H858.5" stroke="#dcdcdc" stroke-width="1" fill="none" shape-rendering="crispEdges"/><rect x="2.5" y="449.5" width="856.0" height="67.0" fill="none" stroke="#dcdcdc" stroke-width="1" shape-rendering="crispEdges"/><g shape-rendering="crispEdges"><rect x="3" y="489" width="4" height="28" fill="#d96666"/><rect x="8" y="478" width="4" height="39" fill="#d96666"/><rect x="14" y="495" width="4" height="22" fill="#66d966"/><rect x="19" y="490" width="4" height="27" fill="#66d966"/><rect x="24" y="504" width="4" height="13" fill="#66d966"/><rect x="30" y="478" width="4" height="39" fill="#66d966"/><rect x="35" y="468" width="4" height="49" fill="#66d966"/><rect x="41" y="490" width="4" height="27" fill="#66d966"/><rect x="46" y="508" width="4" height="9" fill="#d96666"/><rect x="51" y="499" width="4" height="18" fill="#66d966"/><rect x="57" y="493" width="4" height="24" fill="#d96666"/><rect x="62" y="494" width="4" height="23" fill="#66d966"/><rect x="68" y="493" width="4" height="24" fill="#d96666"/><rect x="73" y="464" width="4" height="53" fill="#66d966"/><rect x="79" y="492" width="4" height="25" fill="#66d966"/><rect x="84" y="487" width="4" height="30" fill="#66d966"/><rect x="89" y="470" width="4" height="47" fill="#d96666"/><rect x="95" y="491" width="4" height="26" fill="#d96666"/><rect x="100" y="480" width="4" height="37" fill="#66d966"/><rect x="106" y="487" width="4" height="30" fill="#66d966"/><rect x="111" y="490" width="4" height="27" fill="#66d966"/><rect x="116" y="483" width="4" height="34" fill="#d96666"/><rect x="122" y="487" width="4" height="30" fill="#66d966"/><rect x="127" y="493" width="4" height="24" fill="#d96666"/><rect x="133" y="490" width="4" height="27" fill="#66d966"/><rect x="138" y="464" width="4" height="53" fill="#66d966"/><rect x="144" y="473" width="4" height="44" fill="#66d966"/><rect x="149" y="484" width="4" height="33" fill="#d96666"/><rect x="154" y="493" width="4" height="24" fill="#d96666"/><rect x="160" y="498" width="4" height="19" fill="#66d966"/><rect x="165" y="504" width="4" height="13" fill="#66d966"/><rect x="171" y="499" width="4" height="18" fill="#d96666"/><rect x="176" y="503" width="4" height="14" fill="#66d966"/><rect x="181" y="494" width="4" height="23" fill="#66d966"/><rect x="187" y="491" width="4" height="26" fill="#66d966"/><rect x="192" y="499" width="4" height="18" fill="#66d966"/><rect x="198" y="502" width="4" height="15" fill="#d96666"/><rect x="203" y="495" width="4" height="22" fill="#d96666"/><rect x="209" y="503" width="4" height="14" fill="#d96666"/><rect x="214" y="485" width="4" height="32" fill="#d96666"/><rect x="219" y="496" width="4" height="21" fill="#66d966"/><rect x="225" y="503" width="4" height="14" fill="#66d966"/><rect x="230" y="504" width="4" height="13" fill="#66d966"/><rect x="236" y="505" width="4" height="12" fill="#d96666"/><rect x="241" y="515" width="4" height="2" fill="#66d966"/><rect x="247" y="502" width="4" height="15" fill="#d96666"/><rect x="252" y="495" width="4" height="22" fill="#d96666"/><rect x="257" y="485" width="4" height="32" fill="#66d966"/><rect x="263" y="493" width="4" height="24" fill="#66d966"/><rect x="268" y="487" width="4" height="30" fill="#d96666"/><rect x="274" y="499" width="4" height="18" fill="#66d966"/><rect x="279" y="503" width="4" height="14" fill="#66d966"/><rect x="284" y="498" width="4" height="19" fill="#66d966"/><rect x="290" y="494" width="4" height="23" fill="#d96666"/><rect x="295" y="505" width="4" height="12" fill="#66d966"/><rect x="301" y="506" width="4" height="11" fill="#d96666"/><rect x="306" y="506" width="4" height="11" fill="#66d966"/><rect x="312" y="503" width="4" height="14" fill="#d96666"/><rect x="317" y="500" width="4" height="17" fill="#d96666"/><rect x="322" y="484" width="4" height="33" fill="#66d966"/><rect x="328" y="506" width="4" height="11" fill="#66d966"/><rect x="333" y="508" width="4" height="9" fill="#d96666"/><rect x="339" y="505" width="4" height="12" fill="#d96666"/><rect x="344" y="505" width="4" height="12" fill="#66d966"/><rect x="349" y="508" width="4" height="9" fill="#d96666"/><rect x="355" y="502" width="4" height="15" fill="#d96666"/><rect x="360" y="507" width="4" height="10" fill="#66d966"/><rect x="366" y="508" width="4" height="9" fill="#d96666"/><rect x="371" y="507" width="4" height="10" fill="#d96666"/><rect x="377" y="506" width="4" height="11" fill="#66d966"/><rect x="382" y="502" width="4" height="15" fill="#d96666"/><rect x="387" y="501" width="4" height="16" fill="#d96666"/><rect x="393" y="496" width="4" height="21" fill="#66d966"/><rect x="398" y="502" width="4" height="15" fill="#d96666"/><rect x="404" y="504" width="4" height="13" fill="#66d966"/><rect x="409" y="501" width="4" height="16" fill="#d96666"/><rect x="414" y="499" width="4" height="18" fill="#d96666"/><rect x="420" y="502" width="4" height="15" fill="#66d966"/><rect x="425" y="500" width="4" height="17" fill="#d96666"/><rect x="431" y="472" width="4" height="45" fill="#d96666"/><rect x="436" y="497" width="4" height="20" fill="#66d966"/><rect x="442" y="505" width="4" height="12" fill="#d96666"/><rect x="447" y="505" width="4" height="12" fill="#d96666"/><rect x="452" y="496" width="4" height="21" fill="#66d966"/><rect x="458" y="507" width="4" height="10" fill="#d96666"/><rect x="463" y="499" width="4" height="18" fill="#d96666"/><rect x="469" y="488" width="4" height="29" fill="#66d966"/><rect x="474" y="507" width="4" height="10" fill="#d96666"/><rect x="479" y="505" width="4" height="12" fill="#d96666"/><rect x="485" y="506" width="4" height="11" fill="#66d966"/><rect x="490" y="501" width="4" height="16" fill="#66d966"/><rect x="496" y="502" width="4" height="15" fill="#66d966"/><rect x="501" y="492" width="4" height="25" fill="#d96666"/><rect x="507" y="503" width="4" height="14" fill="#66d966"/><rect x="512" y="503" width="4" height="14" fill="#66d966"/><rect x="517" y="498" width="4" height="19" fill="#66d966"/><rect x="523" y="504" width="4" height="13" fill="#d96666"/><rect x="528" y="510" width="4" height="7" fill="#c0c0c0"/><rect x="534" y="507" width="4" height="10" fill="#d96666"/><rect x="539" y="508" width="4" height="9" fill="#d96666"/><rect x="544" y="501" width="4" height="16" fill="#d96666"/><rect x="550" y="496" width="4" height="21" fill="#66d966"/><rect x="555" y="503" width="4" height="14" fill="#66d966"/><rect x="561" y="507" width="4" height="10" fill="#66d966"/><rect x="566" y="506" width="4" height="11" fill="#66d966"/><rect x="572" y="489" width="4" height="28" fill="#d96666"/><rect x="577" y="500" width="4" height="17" fill="#d96666"/><rect x="582" y="509" width="4" height="8" fill="#d96666"/><rect x="588" y="511" width="4" height="6" fill="#66d966"/><rect x="593" y="508" width="4" height="9" fill="#d96666"/><rect x="599" y="509" width="4" height="8" fill="#d96666"/><rect x="604" y="503" width="4" height="14" fill="#d96666"/><rect x="609" y="508" width="4" height="9" fill="#66d966"/><rect x="615" y="510" width="4" height="7" fill="#66d966"/><rect x="620" y="507" width="4" height="10" fill="#d96666"/><rect x="626" y="509" width="4" height="8" fill="#d96666"/><rect x="631" y="511" width="4" height="6" fill="#66d966"/><rect x="637" y="509" width="4" height="8" fill="#d96666"/><rect x="642" y="510" width="4" height="7" fill="#d96666"/><rect x="647" y="503" width="4" height="14" fill="#d96666"/><rect x="653" y="510" width="4" height="7" fill="#66d966"/><rect x="658" y="510" width="4" height="7" fill="#66d966"/><rect x="664" y="507" width="4" height="10" fill="#66d966"/><rect x="669" y="507" width="4" height="10" fill="#66d966"/><rect x="675" y="507" width="4" height="10" fill="#66d966"/><rect x="680" y="510" width="4" height="7" fill="#d96666"/><rect x="685" y="509" width="4" height="8" fill="#66d966"/><rect x="691" y="509" width="4" height="8" fill="#66d966"/><rect x="696" y="510" width="4" height="7" fill="#66d966"/><rect x="702" y="512" width="4" height="5" fill="#d96666"/><rect x="707" y="513" width="4" height="4" fill="#d96666"/><rect x="712" y="511" width="4" height="6" fill="#d96666"/><rect x="718" y="511" width="4" height="6" fill="#d96666"/><rect x="723" y="511" width="4" height="6" fill="#d96666"/><rect x="729" y="511" width="4" height="6" fill="#66d966"/><rect x="734" y="505" width="4" height="12" fill="#66d966"/><rect x="740" y="510" width="4" height="7" fill="#d96666"/><rect x="745" y="508" width="4" height="9" fill="#d96666"/><rect x="750" y="506" width="4" height="11" fill="#d96666"/><rect x="756" y="510" width="4" height="7" fill="#66d966"/><rect x="761" y="513" width="4" height="4" fill="#66d966"/><rect x="767" y="511" width="4" height="6" fill="#66d966"/><rect x="772" y="514" width="4" height="3" fill="#d96666"/><rect x="777" y="512" width="4" height="5" fill="#66d966"/><rect x="783" y="505" width="4" height="12" fill="#66d966"/><rect x="788" y="512" width="4" height="5" fill="#d96666"/><rect x="794" y="512" width="4" height="5" fill="#d96666"/><rect x="799" y="511" width="4" height="6" fill="#66d966"/><rect x="805" y="512" width="4" height="5" fill="#66d966"/><rect x="810" y="512" width="4" height="5" fill="#d96666"/><rect x="815" y="510" width="4" height="7" fill="#66d966"/><rect x="821" y="507" width="4" height="10" fill="#d96666"/><rect x="826" y="490" width="4" height="27" fill="#66d966"/><rect x="832" y="506" width="4" height="11" fill="#d96666"/><rect x="837" y="510" width="4" height="7" fill="#d96666"/><rect x="842" y="501" width="4" height="16" fill="#66d966"/><rect x="848" y="511" width="4" height="6" fill="#d96666"/><rect x="853" y="507" width="4" height="10" fill="#66d966"/></g><text transform="translate(862.06 454) scale(0.9400 1)">40M</text><text transform="translate(861.78 487) scale(0.9400 1)">20M</text><text transform="translate(861.90 521) scale(0.9400 1)">0M</text><rect x="3.5" y="436.5" width="7" height="7" fill="#66d966" stroke="#000" stroke-width="1" shape-rendering="crispEdges"/><text transform="translate(15.38 444) scale(0.9227 1)">Actua Volumen in USD</text></g><g id="macd"><path d="M26.5 541.5V660.5M53.5 541.5V660.5M75.5 541.5V660.5M97.5 541.5V660.5M124.5 541.5V660.5M146.5 541.5V660.5M167.5 541.5V660.5M194.5 541.5V660.5M216.5 541.5V660.5M243.5 541.5V660.5M265.5 541.5V660.5M286.5 541.5V660.5M314.5 541.5V660.5M335.5 541.5V660.5M357.5 541.5V660.5M379.5 541.5V660.5M406.5 541.5V660.5M427.5 541.5V660.5M454.5 541.5V660.5M476.5 541.5V660.5M498.5 541.5V660.5M525.5 541.5V660.5M546.5 541.5V660.5M568.5 541.5V660.5M595.5 541.5V660.5M617.5 541.5V660.5M644.5 541.5V660.5M666.5 541.5V660.5M687.5 541.5V660.5M709.5 541.5V660.5M736.5 541.5V660.5M758.5 541.5V660.5M785.5 541.5V660.5M807.5 541.5V660.5M828.5 541.5V660.5M2.5 571.5H858.5M2.5 600.5H858.5M2.5 630.5H858.5" stroke="#dcdcdc" stroke-width="1" fill="none" shape-rendering="crispEdges"/><rect x="2.5" y="541.5" width="856.0" height="119.0" fill="none" stroke="#dcdcdc" stroke-width="1" shape-rendering="crispEdges"/><g shape-rendering="crispEdges" fill="#008000"><rect x="3" y="589" width="4" height="13"/><rect x="8" y="591" width="4" height="11"/><rect x="14" y="592" width="4" height="10"/><rect x="19" y="594" width="4" height="8"/><rect x="24" y="594" width="4" height="8"/><rect x="30" y="595" width="4" height="7"/><rect x="35" y="595" width="4" height="7"/><rect x="41" y="595" width="4" height="7"/><rect x="46" y="596" width="4" height="6"/><rect x="51" y="598" width="4" height="4"/><rect x="57" y="600" width="4" height="2"/><rect x="62" y="600" width="4" height="2"/><rect x="68" y="601" width="4" height="1"/><rect x="73" y="600" width="4" height="2"/><rect x="79" y="599" width="4" height="3"/><rect x="84" y="597" width="4" height="5"/><rect x="89" y="596" width="4" height="6"/><rect x="95" y="597" width="4" height="5"/><rect x="100" y="597" width="4" height="5"/><rect x="106" y="597" width="4" height="5"/><rect x="111" y="596" width="4" height="6"/><rect x="116" y="600" width="4" height="2"/><rect x="122" y="601" width="4" height="3"/><rect x="127" y="601" width="4" height="6"/><rect x="133" y="601" width="4" height="5"/><rect x="138" y="601" width="4" height="4"/><rect x="144" y="601" width="4" height="2"/><rect x="149" y="601" width="4" height="7"/><rect x="154" y="601" width="4" height="11"/><rect x="160" y="601" width="4" height="12"/><rect x="165" y="601" width="4" height="12"/><rect x="171" y="601" width="4" height="12"/><rect x="176" y="601" width="4" height="10"/><rect x="181" y="601" width="4" height="8"/><rect x="187" y="601" width="4" height="5"/><rect x="192" y="601" width="4" height="3"/><rect x="198" y="601" width="4" height="5"/><rect x="203" y="601" width="4" height="9"/><rect x="209" y="601" width="4" height="12"/><rect x="214" y="601" width="4" height="15"/><rect x="219" y="601" width="4" height="14"/><rect x="225" y="601" width="4" height="13"/><rect x="230" y="601" width="4" height="11"/><rect x="236" y="601" width="4" height="11"/><rect x="241" y="601" width="4" height="9"/><rect x="247" y="601" width="4" height="9"/><rect x="252" y="601" width="4" height="10"/><rect x="257" y="601" width="4" height="10"/><rect x="263" y="601" width="4" height="9"/><rect x="268" y="601" width="4" height="8"/><rect x="274" y="601" width="4" height="6"/><rect x="279" y="601" width="4" height="4"/><rect x="284" y="599" width="4" height="3"/><rect x="290" y="600" width="4" height="2"/><rect x="295" y="601" width="4" height="1"/><rect x="301" y="601" width="4" height="3"/><rect x="306" y="601" width="4" height="2"/><rect x="312" y="601" width="4" height="2"/><rect x="317" y="601" width="4" height="4"/><rect x="322" y="599" width="4" height="3"/><rect x="328" y="595" width="4" height="7"/><rect x="333" y="593" width="4" height="9"/><rect x="339" y="594" width="4" height="8"/><rect x="344" y="594" width="4" height="8"/><rect x="349" y="597" width="4" height="5"/><rect x="355" y="599" width="4" height="3"/><rect x="360" y="601" width="4" height="1"/><rect x="366" y="601" width="4" height="2"/><rect x="371" y="601" width="4" height="4"/><rect x="377" y="601" width="4" height="2"/><rect x="382" y="601" width="4" height="4"/><rect x="387" y="601" width="4" height="5"/><rect x="393" y="601" width="4" height="4"/><rect x="398" y="601" width="4" height="4"/><rect x="404" y="601" width="4" height="3"/><rect x="409" y="601" width="4" height="3"/><rect x="414" y="601" width="4" height="4"/><rect x="420" y="601" width="4" height="4"/><rect x="425" y="601" width="4" height="4"/><rect x="431" y="601" width="4" height="7"/><rect x="436" y="601" width="4" height="7"/><rect x="442" y="601" width="4" height="7"/><rect x="447" y="601" width="4" height="7"/><rect x="452" y="601" width="4" height="5"/><rect x="458" y="601" width="4" height="4"/><rect x="463" y="601" width="4" height="3"/><rect x="469" y="599" width="4" height="3"/><rect x="474" y="598" width="4" height="4"/><rect x="479" y="597" width="4" height="5"/><rect x="485" y="597" width="4" height="5"/><rect x="490" y="596" width="4" height="6"/><rect x="496" y="594" width="4" height="8"/><rect x="501" y="596" width="4" height="6"/><rect x="507" y="597" width="4" height="5"/><rect x="512" y="596" width="4" height="6"/><rect x="517" y="596" width="4" height="6"/><rect x="523" y="596" width="4" height="6"/><rect x="528" y="596" width="4" height="6"/><rect x="534" y="598" width="4" height="4"/><rect x="539" y="600" width="4" height="2"/><rect x="544" y="601" width="4" height="3"/><rect x="550" y="601" width="4" height="2"/><rect x="555" y="601" width="4" height="1"/><rect x="561" y="598" width="4" height="4"/><rect x="566" y="597" width="4" height="5"/><rect x="572" y="598" width="4" height="4"/><rect x="577" y="601" width="4" height="2"/><rect x="582" y="601" width="4" height="4"/><rect x="588" y="601" width="4" height="4"/><rect x="593" y="601" width="4" height="4"/><rect x="599" y="601" width="4" height="6"/><rect x="604" y="601" width="4" height="7"/><rect x="609" y="601" width="4" height="5"/><rect x="615" y="601" width="4" height="3"/><rect x="620" y="601" width="4" height="5"/><rect x="626" y="601" width="4" height="6"/><rect x="631" y="601" width="4" height="6"/><rect x="637" y="601" width="4" height="6"/><rect x="642" y="601" width="4" height="6"/><rect x="647" y="601" width="4" height="9"/><rect x="653" y="601" width="4" height="9"/><rect x="658" y="601" width="4" height="7"/><rect x="664" y="601" width="4" height="5"/><rect x="669" y="601" width="4" height="1"/><rect x="675" y="599" width="4" height="3"/><rect x="680" y="598" width="4" height="4"/><rect x="685" y="597" width="4" height="5"/><rect x="691" y="595" width="4" height="7"/><rect x="696" y="594" width="4" height="8"/><rect x="702" y="593" width="4" height="9"/><rect x="707" y="593" width="4" height="9"/><rect x="712" y="594" width="4" height="8"/><rect x="718" y="594" width="4" height="8"/><rect x="723" y="595" width="4" height="7"/><rect x="729" y="595" width="4" height="7"/><rect x="734" y="594" width="4" height="8"/><rect x="740" y="594" width="4" height="8"/><rect x="745" y="595" width="4" height="7"/><rect x="750" y="597" width="4" height="5"/><rect x="756" y="597" width="4" height="5"/><rect x="761" y="597" width="4" height="5"/><rect x="767" y="596" width="4" height="6"/><rect x="772" y="596" width="4" height="6"/><rect x="777" y="595" width="4" height="7"/><rect x="783" y="595" width="4" height="7"/><rect x="788" y="595" width="4" height="7"/><rect x="794" y="596" width="4" height="6"/><rect x="799" y="596" width="4" height="6"/><rect x="805" y="595" width="4" height="7"/><rect x="810" y="595" width="4" height="7"/><rect x="815" y="595" width="4" height="7"/><rect x="821" y="596" width="4" height="6"/><rect x="826" y="591" width="4" height="11"/><rect x="832" y="591" width="4" height="11"/><rect x="837" y="592" width="4" height="10"/><rect x="842" y="592" width="4" height="10"/><rect x="848" y="594" width="4" height="8"/><rect x="853" y="593" width="4" height="9"/></g><path d="M5.5 575.3 L10.5 573.5 L16.5 571.2 L21.5 569.4 L26.5 567.8 L32.5 566.1 L37.5 564.9 L43.5 563.4 L48.5 562.3 L53.5 561.8 L59.5 561.5 L64.5 561.5 L70.5 561.5 L75.5 561.5 L81.5 561.0 L86.5 559.9 L91.5 558.9 L97.5 558.1 L102.5 557.3 L108.5 556.3 L113.5 555.3 L118.5 555.1 L124.5 556.0 L129.5 557.4 L135.5 558.5 L140.5 559.4 L146.5 560.1 L151.5 561.9 L156.5 564.6 L162.5 567.8 L167.5 570.5 L173.5 573.5 L178.5 575.6 L183.5 577.2 L189.5 578.3 L194.5 578.7 L200.5 580.1 L205.5 582.0 L211.5 585.5 L216.5 589.0 L221.5 592.2 L227.5 595.4 L232.5 597.8 L238.5 600.6 L243.5 602.5 L249.5 604.9 L254.5 607.4 L259.5 609.7 L265.5 612.0 L270.5 613.8 L276.5 615.2 L281.5 615.6 L286.5 615.6 L292.5 614.9 L297.5 615.3 L303.5 615.9 L308.5 616.3 L314.5 616.6 L319.5 617.4 L324.5 616.7 L330.5 614.9 L335.5 613.3 L341.5 611.8 L346.5 610.4 L351.5 609.7 L357.5 609.2 L362.5 609.5 L368.5 610.2 L373.5 610.8 L379.5 611.3 L384.5 611.9 L389.5 612.9 L395.5 613.8 L400.5 614.7 L406.5 615.3 L411.5 616.0 L416.5 617.0 L422.5 617.9 L427.5 618.8 L433.5 620.7 L438.5 622.5 L444.5 624.1 L449.5 625.9 L454.5 626.6 L460.5 627.2 L465.5 627.9 L471.5 627.5 L476.5 627.0 L481.5 626.1 L487.5 625.2 L492.5 624.1 L498.5 622.5 L503.5 621.5 L509.5 620.4 L514.5 619.4 L519.5 618.4 L525.5 617.4 L530.5 616.3 L536.5 615.9 L541.5 615.3 L546.5 616.0 L552.5 616.3 L557.5 616.6 L563.5 615.9 L568.5 615.2 L574.5 614.5 L579.5 614.9 L584.5 615.8 L590.5 617.2 L595.5 617.8 L601.5 619.5 L606.5 621.0 L611.5 621.9 L617.5 622.6 L622.5 623.7 L628.5 625.4 L633.5 626.7 L639.5 628.1 L644.5 629.5 L649.5 631.5 L655.5 634.0 L660.5 635.6 L666.5 636.6 L671.5 636.7 L677.5 636.3 L682.5 635.9 L687.5 635.2 L693.5 633.8 L698.5 632.2 L704.5 630.4 L709.5 628.8 L714.5 627.1 L720.5 625.4 L725.5 623.7 L731.5 621.9 L736.5 620.2 L742.5 618.5 L747.5 617.4 L752.5 616.5 L758.5 615.5 L763.5 614.8 L769.5 613.5 L774.5 612.4 L779.5 611.0 L785.5 609.6 L790.5 608.6 L796.5 607.3 L801.5 606.2 L807.5 604.9 L812.5 603.5 L817.5 602.1 L823.5 601.0 L828.5 598.7 L834.5 596.0 L839.5 593.9 L844.5 591.9 L850.5 590.2 L855.5 588.6" fill="none" stroke="#ff1aff" stroke-width="1.1" stroke-linejoin="round" /><path d="M5.5 563.5 L10.5 564.0 L16.5 563.0 L21.5 562.3 L26.5 561.6 L32.5 560.1 L37.5 559.2 L43.5 557.5 L48.5 558.2 L53.5 559.2 L59.5 561.0 L64.5 561.5 L70.5 562.2 L75.5 561.5 L81.5 559.9 L86.5 556.4 L91.5 555.1 L97.5 554.4 L102.5 554.0 L108.5 552.8 L113.5 551.3 L118.5 555.1 L124.5 558.2 L129.5 563.3 L135.5 563.3 L140.5 563.0 L146.5 561.2 L151.5 568.1 L156.5 574.9 L162.5 578.7 L167.5 581.4 L173.5 584.4 L178.5 585.1 L183.5 584.4 L189.5 583.1 L194.5 581.7 L200.5 585.1 L205.5 590.6 L211.5 596.7 L216.5 602.9 L221.5 605.6 L227.5 607.9 L232.5 608.8 L238.5 611.4 L243.5 611.5 L249.5 613.1 L254.5 617.0 L259.5 618.9 L265.5 620.2 L270.5 621.1 L276.5 620.7 L281.5 619.0 L286.5 613.4 L292.5 614.9 L297.5 615.3 L303.5 618.6 L308.5 617.4 L314.5 617.7 L319.5 621.1 L324.5 614.9 L330.5 610.2 L335.5 606.7 L341.5 605.7 L346.5 604.3 L351.5 605.7 L357.5 608.1 L362.5 609.7 L368.5 611.5 L373.5 614.3 L379.5 612.5 L384.5 614.9 L389.5 618.4 L395.5 617.4 L400.5 618.8 L406.5 618.4 L411.5 619.3 L416.5 621.4 L422.5 621.5 L427.5 622.7 L433.5 626.8 L438.5 628.6 L444.5 630.7 L449.5 632.4 L454.5 630.7 L460.5 630.4 L465.5 630.7 L471.5 625.9 L476.5 624.2 L481.5 622.9 L487.5 621.4 L492.5 620.0 L498.5 616.0 L503.5 617.4 L509.5 616.7 L514.5 615.3 L519.5 614.0 L525.5 612.9 L530.5 612.2 L536.5 612.6 L541.5 614.9 L546.5 619.0 L552.5 618.6 L557.5 616.7 L563.5 613.8 L568.5 611.5 L574.5 612.2 L579.5 615.9 L584.5 618.9 L590.5 620.6 L595.5 621.5 L601.5 624.7 L606.5 627.4 L611.5 626.3 L617.5 625.4 L622.5 628.1 L628.5 631.2 L633.5 632.2 L639.5 633.1 L644.5 634.9 L649.5 639.4 L655.5 641.7 L660.5 642.4 L666.5 641.1 L671.5 638.3 L677.5 634.6 L682.5 633.6 L687.5 631.2 L693.5 628.5 L698.5 624.9 L704.5 621.7 L709.5 620.3 L714.5 619.5 L720.5 618.5 L725.5 618.3 L731.5 616.9 L736.5 614.0 L742.5 612.4 L747.5 612.7 L752.5 613.1 L758.5 612.8 L763.5 612.4 L769.5 609.2 L774.5 607.6 L779.5 606.0 L785.5 604.2 L790.5 603.2 L796.5 603.1 L801.5 601.9 L807.5 599.0 L812.5 597.3 L817.5 596.0 L823.5 596.3 L828.5 589.2 L834.5 586.4 L839.5 585.1 L844.5 583.7 L850.5 584.0 L855.5 580.7" fill="none" stroke="#1a1aff" stroke-width="1.1" stroke-linejoin="round" /><text transform="translate(861.78 546) scale(0.9400 1)">2</text><text transform="translate(862.21 576) scale(0.9400 1)">1</text><text transform="translate(861.90 605) scale(0.9400 1)">0</text><text transform="translate(861.79 635) scale(0.9400 1)">−1</text><text transform="translate(861.79 665) scale(0.9400 1)">−2</text><rect x="3.5" y="528.5" width="7" height="7" fill="#0000ee" stroke="#000" stroke-width="1" shape-rendering="crispEdges"/><text transform="translate(15.52 536) scale(0.9790 1)">MACD (26, 12): 0,67857</text><rect x="157.5" y="528.5" width="7" height="7" fill="#ff00ff" stroke="#000" stroke-width="1" shape-rendering="crispEdges"/><text transform="translate(169.43 536) scale(0.9683 1)">EXP (9): 0,41437</text><rect x="276.5" y="528.5" width="7" height="7" fill="#008000" stroke="#000" stroke-width="1" shape-rendering="crispEdges"/><text transform="translate(288.25 536) scale(0.9421 1)">Divergence: 0,2642</text></g><g id="rsi"><path d="M26.5 685.5V804.5M53.5 685.5V804.5M75.5 685.5V804.5M97.5 685.5V804.5M124.5 685.5V804.5M146.5 685.5V804.5M167.5 685.5V804.5M194.5 685.5V804.5M216.5 685.5V804.5M243.5 685.5V804.5M265.5 685.5V804.5M286.5 685.5V804.5M314.5 685.5V804.5M335.5 685.5V804.5M357.5 685.5V804.5M379.5 685.5V804.5M406.5 685.5V804.5M427.5 685.5V804.5M454.5 685.5V804.5M476.5 685.5V804.5M498.5 685.5V804.5M525.5 685.5V804.5M546.5 685.5V804.5M568.5 685.5V804.5M595.5 685.5V804.5M617.5 685.5V804.5M644.5 685.5V804.5M666.5 685.5V804.5M687.5 685.5V804.5M709.5 685.5V804.5M736.5 685.5V804.5M758.5 685.5V804.5M785.5 685.5V804.5M807.5 685.5V804.5M828.5 685.5V804.5M2.5 709.5H858.5M2.5 733.5H858.5M2.5 756.5H858.5M2.5 780.5H858.5" stroke="#dcdcdc" stroke-width="1" fill="none" shape-rendering="crispEdges"/><rect x="2.5" y="685.5" width="856.0" height="119.0" fill="none" stroke="#dcdcdc" stroke-width="1" shape-rendering="crispEdges"/><path d="M5.5 721.5 L5.5 718.9 L8.2 721.5ZM14.1 721.5 L16.5 720.0 L21.5 718.9 L26.5 718.0 L32.5 715.2 L37.5 714.8 L43.5 711.4 L48.5 720.6 L53.5 720.3 L55.4 721.5ZM62.9 721.5 L64.5 720.3 L70.5 720.6 L75.5 716.2 L81.5 712.8 L86.5 709.0 L91.5 710.3 L97.5 713.2 L102.5 711.4 L108.5 709.1 L113.5 707.3 L116.4 721.5ZM828.2 721.5 L828.5 720.5 L829.2 721.5Z" fill="#ff6060" stroke="none"/><path d="M646.7 768.5 L649.5 772.0 L654.6 768.5Z" fill="#5050ff" stroke="none"/><path d="M2.5 721.5H858.5" stroke="#ff5a5a" stroke-width="1" shape-rendering="crispEdges"/><path d="M2.5 768.5H858.5" stroke="#5a5aff" stroke-width="1" shape-rendering="crispEdges"/><path d="M5.5 718.9 L10.5 723.7 L16.5 720.0 L21.5 718.9 L26.5 718.0 L32.5 715.2 L37.5 714.8 L43.5 711.4 L48.5 720.6 L53.5 720.3 L59.5 724.1 L64.5 720.3 L70.5 720.6 L75.5 716.2 L81.5 712.8 L86.5 709.0 L91.5 710.3 L97.5 713.2 L102.5 711.4 L108.5 709.1 L113.5 707.3 L118.5 731.6 L124.5 729.2 L129.5 740.1 L135.5 728.5 L140.5 727.1 L146.5 723.5 L151.5 745.1 L156.5 749.2 L162.5 743.3 L167.5 742.6 L173.5 743.6 L178.5 740.3 L183.5 736.2 L189.5 735.1 L194.5 733.4 L200.5 745.1 L205.5 752.2 L211.5 756.0 L216.5 758.3 L221.5 752.8 L227.5 751.5 L232.5 749.4 L238.5 753.9 L243.5 749.8 L249.5 753.5 L254.5 760.4 L259.5 756.7 L265.5 755.6 L270.5 756.5 L276.5 753.1 L281.5 748.1 L286.5 738.5 L292.5 752.6 L297.5 751.5 L303.5 757.3 L308.5 748.7 L314.5 752.2 L319.5 757.3 L324.5 740.8 L330.5 739.5 L335.5 741.0 L341.5 745.1 L346.5 743.6 L351.5 748.7 L357.5 751.7 L362.5 751.5 L368.5 751.9 L373.5 755.6 L379.5 746.4 L384.5 753.8 L389.5 756.7 L395.5 748.7 L400.5 753.3 L406.5 750.1 L411.5 753.1 L416.5 756.0 L422.5 753.1 L427.5 755.8 L433.5 761.4 L438.5 758.6 L444.5 760.4 L449.5 761.4 L454.5 753.3 L460.5 756.3 L465.5 757.3 L471.5 745.3 L476.5 750.4 L481.5 750.8 L487.5 750.4 L492.5 749.4 L498.5 743.3 L503.5 753.8 L509.5 749.4 L514.5 748.1 L519.5 747.1 L525.5 748.5 L530.5 748.5 L536.5 752.6 L541.5 757.6 L546.5 763.4 L552.5 752.2 L557.5 747.7 L563.5 744.6 L568.5 744.4 L574.5 752.2 L579.5 759.4 L584.5 759.7 L590.5 758.3 L595.5 758.3 L601.5 764.5 L606.5 765.4 L611.5 754.5 L617.5 753.9 L622.5 763.4 L628.5 766.2 L633.5 761.3 L639.5 762.7 L644.5 765.8 L649.5 772.0 L655.5 767.9 L660.5 766.2 L666.5 760.6 L671.5 755.8 L677.5 753.3 L682.5 757.3 L687.5 753.3 L693.5 752.4 L698.5 747.4 L704.5 748.5 L709.5 750.8 L714.5 753.3 L720.5 753.7 L725.5 756.0 L731.5 749.7 L736.5 744.2 L742.5 748.7 L747.5 752.6 L752.5 753.8 L758.5 752.4 L763.5 751.2 L769.5 740.8 L774.5 744.6 L779.5 741.6 L785.5 741.5 L790.5 743.6 L796.5 746.3 L801.5 741.2 L807.5 735.4 L812.5 736.2 L817.5 733.7 L823.5 740.3 L828.5 720.5 L834.5 728.9 L839.5 733.7 L844.5 731.4 L850.5 736.4 L855.5 726.7" fill="none" stroke="#800080" stroke-width="1.15" stroke-linejoin="round" /><text transform="translate(862.21 690) scale(0.9400 1)" fill="#000">100</text><text transform="translate(861.85 714) scale(0.9400 1)" fill="#000">80</text><text transform="translate(861.77 726) scale(0.9400 1)" fill="#ff5050">70</text><text transform="translate(861.77 738) scale(0.9400 1)" fill="#000">60</text><text transform="translate(862.06 761) scale(0.9400 1)" fill="#000">40</text><text transform="translate(861.91 773) scale(0.9400 1)" fill="#5050ff">30</text><text transform="translate(861.78 785) scale(0.9400 1)" fill="#000">20</text><text transform="translate(861.90 809) scale(0.9400 1)" fill="#000">0</text><rect x="3.5" y="672.5" width="7" height="7" fill="#800080" stroke="#000" stroke-width="1" shape-rendering="crispEdges"/><text transform="translate(14.82 680) scale(0.9749 1)">RSI (14): 65,17</text></g><g id="draw"><polygon points="859,155 936.5,155 900,190 859,190" fill="#efe4b0"/><path d="M801.3 289.2 L1093 0" stroke="#880015" stroke-width="1" fill="none"/><path d="M660.5 365.3 L1098 155.5" stroke="#880015" stroke-width="3.1" fill="none" shape-rendering="crispEdges"/><path d="M145.3 29.1 L1098 311" stroke="#a349a4" stroke-width="3.0" fill="none" shape-rendering="crispEdges"/><rect x="242" y="152" width="856" height="3" fill="#ff7f27" shape-rendering="crispEdges"/><rect x="241" y="190" width="857" height="3" fill="#ff7f27" shape-rendering="crispEdges"/><text transform="translate(862.21 178) scale(0.9400 1)">14</text></g></svg></body></html>
